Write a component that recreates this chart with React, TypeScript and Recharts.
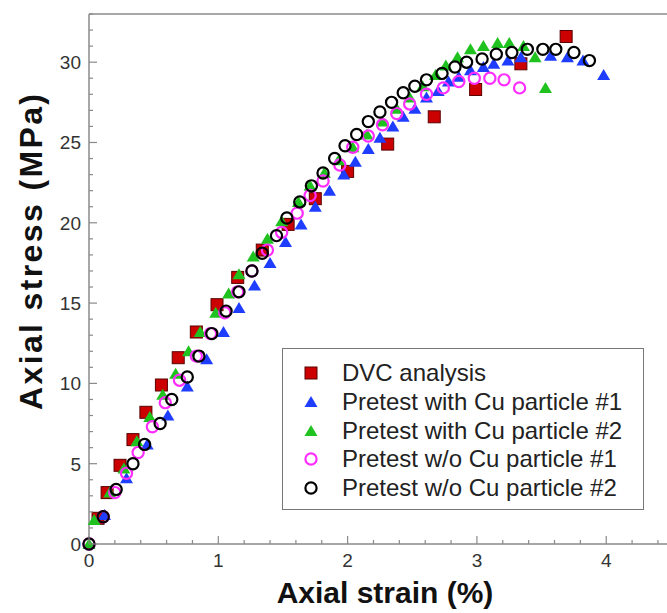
import { ScatterChart, Scatter, XAxis, YAxis, ReferenceLine } from 'recharts';

// values (strain in %, stress in MPa)
const dvcStrain = [0.07, 0.14, 0.24, 0.34, 0.44, 0.56, 0.69, 0.83, 0.99, 1.15, 1.34, 1.54, 1.75, 2.0, 2.31, 2.67, 2.99, 3.34, 3.69];
const dvcStress = [1.6, 3.2, 4.9, 6.5, 8.2, 9.9, 11.6, 13.2, 14.9, 16.6, 18.3, 19.9, 21.5, 23.2, 24.9, 26.6, 28.3, 29.9, 31.6];

const cu1Strain = [0.12, 0.29, 0.45, 0.61, 0.76, 0.91, 1.04, 1.16, 1.28, 1.4, 1.52, 1.64, 1.75, 1.86, 1.97, 2.06, 2.16, 2.25, 2.35, 2.43, 2.52, 2.61, 2.7, 2.78, 2.86, 2.95, 3.05, 3.13, 3.24, 3.34, 3.57, 3.7, 3.82, 3.98];
const cu1Stress = [1.8, 4.1, 6.2, 8.0, 9.8, 11.5, 13.2, 14.7, 16.1, 17.5, 18.8, 19.9, 21.0, 22.0, 23.0, 23.8, 24.6, 25.3, 26.0, 26.6, 27.1, 27.8, 28.2, 28.8, 29.1, 29.5, 29.7, 29.9, 30.1, 30.3, 30.4, 30.3, 30.1, 29.2];

const cu2Strain = [0, 0.04, 0.16, 0.27, 0.37, 0.47, 0.57, 0.67, 0.77, 0.86, 0.98, 1.08, 1.16, 1.27, 1.38, 1.49, 1.62, 1.71, 1.82, 1.93, 2.04, 2.15, 2.27, 2.38, 2.48, 2.58, 2.68, 2.76, 2.85, 2.95, 3.05, 3.16, 3.25, 3.36, 3.45, 3.53];
const cu2Stress = [0, 1.5, 3.2, 4.7, 6.4, 7.9, 9.3, 10.6, 12.0, 13.2, 14.4, 15.6, 16.8, 17.9, 19.0, 20.1, 21.3, 22.3, 23.1, 23.9, 24.7, 25.5, 26.3, 27.1, 27.8, 28.5, 29.2, 29.8, 30.3, 30.8, 31.0, 31.2, 31.2, 31.0, 30.3, 28.4];

const noCu1Strain = [0, 0.11, 0.2, 0.29, 0.38, 0.49, 0.59, 0.7, 0.83, 0.94, 1.05, 1.15, 1.26, 1.38, 1.49, 1.61, 1.71, 1.81, 1.94, 2.04, 2.16, 2.27, 2.38, 2.48, 2.61, 2.74, 2.86, 2.98, 3.1, 3.21, 3.33];
const noCu1Stress = [0, 1.7, 3.2, 4.4, 5.7, 7.3, 8.8, 10.2, 11.7, 13.1, 14.4, 15.7, 17.0, 18.3, 19.4, 20.6, 21.7, 22.6, 23.6, 24.7, 25.4, 26.1, 26.8, 27.4, 28.0, 28.4, 28.8, 29.0, 29.0, 28.9, 28.4];

const noCu2Strain = [0, 0.11, 0.21, 0.34, 0.43, 0.55, 0.64, 0.76, 0.85, 0.95, 1.06, 1.16, 1.26, 1.34, 1.45, 1.53, 1.63, 1.72, 1.81, 1.9, 1.98, 2.07, 2.16, 2.25, 2.34, 2.43, 2.52, 2.61, 2.73, 2.83, 2.92, 3.04, 3.15, 3.27, 3.39, 3.51, 3.61, 3.75, 3.87];
const noCu2Stress = [0, 1.7, 3.4, 5.0, 6.2, 7.5, 9.0, 10.4, 11.7, 13.1, 14.5, 15.7, 17.0, 18.1, 19.2, 20.3, 21.3, 22.3, 23.1, 24.0, 24.8, 25.5, 26.3, 26.9, 27.5, 28.1, 28.5, 28.9, 29.3, 29.7, 30.0, 30.2, 30.5, 30.6, 30.8, 30.8, 30.8, 30.6, 30.1];

const xTicks = [0, 0.2, 0.4, 0.6, 0.8, 1, 1.2, 1.4, 1.6, 1.8, 2, 2.2, 2.4, 2.6, 2.8, 3, 3.2, 3.4, 3.6, 3.8, 4, 4.2, 4.4];
const yTicks = [0, 1, 2, 3, 4, 5, 6, 7, 8, 9, 10, 11, 12, 13, 14, 15, 16, 17, 18, 19, 20, 21, 22, 23, 24, 25, 26, 27, 28, 29, 30, 31, 32, 33];

const labels = [
  'DVC analysis',
  'Pretest with Cu particle #1',
  'Pretest with Cu particle #2',
  'Pretest w/o Cu particle #1',
  'Pretest w/o Cu particle #2',
];

const toPoints = (xs: number[], ys: number[]) => xs.map((x, i) => ({ x, y: ys[i] }));

const FONT = '"Liberation Sans", Arial, sans-serif';
const AXIS = '#8a8a8a';

const Square = ({ cx, cy }: any) => (
  <rect x={cx - 6} y={cy - 6} width={12} height={12} fill="#cc0000" stroke="#5a0000" strokeWidth={1} />
);
const triangle = (color: string) => ({ cx, cy }: any) => (
  <path d={`M${cx},${cy - 6} L${cx + 6.5},${cy + 5} L${cx - 6.5},${cy + 5} Z`} fill={color} />
);
const BlueTri = triangle('#1f3dff');
const GreenTri = triangle('#1fc21f');
const ring = (color: string) => ({ cx, cy }: any) => (
  <circle cx={cx} cy={cy} r={5.6} fill="none" stroke={color} strokeWidth={2.2} />
);
const PinkRing = ring('#ff2eff');
const BlackRing = ring('#000000');

const shapes = [Square, BlueTri, GreenTri, PinkRing, BlackRing];

const XTick = ({ x, y, payload }: any) => {
  const v = payload.value;
  const major = Math.abs(v - Math.round(v)) < 1e-6;
  return (
    <g>
      <line x1={x} x2={x} y1={y} y2={y - (major ? 8 : 4)} stroke={AXIS} strokeWidth={1.2} />
      {major && (
        <text x={x} y={y + 23} textAnchor="middle" fontSize={19} fill="#333" fontFamily={FONT}>
          {v}
        </text>
      )}
    </g>
  );
};

const YTick = ({ x, y, payload }: any) => {
  const v = payload.value;
  const major = v % 5 === 0;
  return (
    <g>
      <line x1={x} x2={x + (major ? 8 : 4)} y1={y} y2={y} stroke={AXIS} strokeWidth={1.2} />
      {major && (
        <text x={x - 8} y={y + 7} textAnchor="end" fontSize={19} fill="#333" fontFamily={FONT}>
          {v}
        </text>
      )}
    </g>
  );
};

function LegendBox() {
  return (
    <div
      style={{
        position: 'absolute',
        left: 282,
        top: 348,
        width: 362,
        height: 162,
        border: '1.3px solid #777',
        background: '#fff',
        paddingTop: 10,
        boxSizing: 'border-box',
        fontFamily: FONT,
        fontSize: 24,
        color: '#222',
      }}
    >
      {labels.map((label, i) => {
        const Shape = shapes[i];
        return (
          <div key={label} style={{ display: 'flex', alignItems: 'center', height: 28.7 }}>
            <svg width={56} height={28} style={{ flex: 'none' }}>
              <Shape cx={28} cy={14} />
            </svg>
            <span style={{ marginLeft: 3, whiteSpace: 'nowrap', lineHeight: '28px' }}>{label}</span>
          </div>
        );
      })}
    </div>
  );
}

export default function App() {
  const series = [
    toPoints(dvcStrain, dvcStress),
    toPoints(cu1Strain, cu1Stress),
    toPoints(cu2Strain, cu2Stress),
    toPoints(noCu1Strain, noCu1Stress),
    toPoints(noCu2Strain, noCu2Stress),
  ];

  return (
    <div style={{ position: 'absolute', left: 0, top: 0, width: 667, height: 613, background: '#fff' }}>
      <ScatterChart width={667} height={613} margin={{ top: 14, right: 0, bottom: 0, left: 0 }}>
        <XAxis
          type="number"
          dataKey="x"
          domain={[0, 4.47]}
          ticks={xTicks}
          interval={0}
          tickSize={0}
          tickMargin={0}
          tickLine={false}
          tick={<XTick />}
          height={69}
          axisLine={{ stroke: AXIS, strokeWidth: 1.5 }}
        />
        <YAxis
          type="number"
          dataKey="y"
          domain={[0, 33]}
          ticks={yTicks}
          interval={0}
          tickSize={0}
          tickMargin={0}
          tickLine={false}
          tick={<YTick />}
          width={89}
          axisLine={{ stroke: AXIS, strokeWidth: 1.5 }}
        />
        <ReferenceLine y={33} stroke={AXIS} strokeWidth={1.5} />
        {series.map((data, i) => (
          <Scatter key={labels[i]} name={labels[i]} data={data} shape={shapes[i]} isAnimationActive={false} />
        ))}
        <text x={385} y={603} textAnchor="middle" fontSize={30} fontWeight="bold" fill="#111" fontFamily={FONT}>
          Axial strain (%)
        </text>
        <text
          x={42}
          y={252}
          textAnchor="middle"
          fontSize={32}
          fontWeight="bold"
          fill="#111"
          fontFamily={FONT}
          transform="rotate(-90, 42, 252)"
          textLength={316}
          lengthAdjust="spacing"
        >
          Axial stress (MPa)
        </text>
      </ScatterChart>
      <LegendBox />
    </div>
  );
}
